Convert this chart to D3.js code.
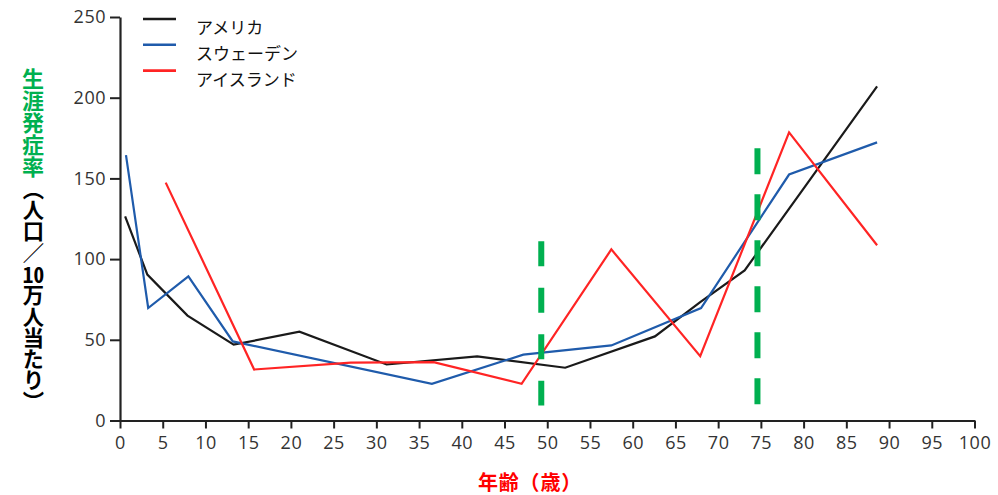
<!DOCTYPE html>
<html>
<head>
<meta charset="utf-8">
<script src="https://cdn.jsdelivr.net/npm/d3@7"></script>
<style>
  html, body { margin: 0; padding: 0; background: #fff; }
  #wrap { position: relative; width: 998px; height: 495px; overflow: hidden; }
  svg { position: absolute; left: 0; top: 0; }
  .ylab { position: absolute; writing-mode: vertical-rl; font-family: "Noto Sans CJK JP", sans-serif; font-weight: bold; line-height: 22px; white-space: nowrap; }
  .tcy { text-combine-upright: all; }
</style>
</head>
<body>
<div id="wrap"></div>
<script>
// ---- data ----
const seriesNames = ["アメリカ", "スウェーデン", "アイスランド"];
const usaAges = [0.6, 3.2, 7.9, 13.3, 21, 31.2, 41.8, 52.1, 62.6, 67.9, 73.1, 88.6];
const usaValues = [126.5, 90.4, 65, 47, 55, 34.7, 39.7, 32.7, 52.1, 73.4, 93, 207];
const swedenAges = [0.7, 3.3, 8.0, 13.2, 36.5, 47.2, 57.5, 68.0, 78.3, 88.6];
const swedenValues = [164.4, 69.7, 89.3, 49, 22.7, 40.8, 46.5, 69.7, 152.4, 172.3];
const icelandAges = [5.35, 15.7, 27, 36.7, 47, 57.5, 67.9, 78.3, 88.6];
const icelandValues = [147.4, 31.6, 35.8, 36.2, 22.7, 106, 39.9, 178.5, 108.6];
const markerAges = [49.3, 74.6];
const markerTops = [111, 168.7];
const markerBottom = 9.3;
const xTicks = d3.range(0, 101, 5);
const yTicks = [0, 50, 100, 150, 200, 250];
const xTitle = "年齢（歳）";

const colors = ["#1a1a1a", "#1f5bab", "#ff2424"];

const W = 998, H = 495;
const wrap = d3.select("#wrap");
const svg = wrap.append("svg").attr("width", W).attr("height", H);

const x = d3.scaleLinear().domain([0, 100]).range([120, 974.5]);
const y = d3.scaleLinear().domain([0, 250]).range([420.5, 17]);

// axes
const yAxis = svg.append("g").attr("transform", `translate(${x(0)},0)`)
  .call(d3.axisLeft(y).tickValues(yTicks).tickSize(10).tickPadding(4).tickSizeOuter(0));
const xAxis = svg.append("g").attr("transform", `translate(0,${y(0)})`)
  .call(d3.axisBottom(x).tickValues(xTicks).tickSize(8).tickPadding(8).tickSizeOuter(0));
[xAxis, yAxis].forEach(g => {
  g.selectAll("path.domain").attr("stroke", "#222").attr("stroke-width", 2.2);
  g.selectAll(".tick line").attr("stroke", "#222").attr("stroke-width", 2);
  g.selectAll(".tick text").attr("fill", "#333")
    .style("font-family", "'Open Sans', sans-serif").style("font-size", "18px")
    .style("letter-spacing", "0.5px");
});

// series lines
const series = [
  { ages: usaAges, values: usaValues },
  { ages: swedenAges, values: swedenValues },
  { ages: icelandAges, values: icelandValues }
];
const line = d3.line().x(d => x(d[0])).y(d => y(d[1]));
series.forEach((s, i) => {
  svg.append("path")
    .datum(s.ages.map((a, j) => [a, s.values[j]]))
    .attr("d", line)
    .attr("fill", "none")
    .attr("stroke", colors[i])
    .attr("stroke-width", 2.2)
    .attr("stroke-linejoin", "miter");
});

// green dashed markers
markerAges.forEach((a, i) => {
  svg.append("line")
    .attr("x1", x(a)).attr("x2", x(a))
    .attr("y1", y(markerTops[i])).attr("y2", y(markerBottom))
    .attr("stroke", "#00b050").attr("stroke-width", 6)
    .attr("stroke-dasharray", i === 0 ? "25,21.5" : "26,20");
});

// legend
const leg = svg.append("g");
seriesNames.forEach((n, i) => {
  const ly = 19 + i * 25.8;
  leg.append("line").attr("x1", 143).attr("x2", 176).attr("y1", ly).attr("y2", ly)
    .attr("stroke", colors[i]).attr("stroke-width", 2.6);
  leg.append("text").attr("x", 196).attr("y", ly + 7.5)
    .attr("dominant-baseline", "central")
    .style("font-family", "'Noto Sans CJK JP', sans-serif").style("font-size", "17px")
    .attr("fill", "#111").text(n);
});

// x title
svg.append("text").attr("x", 478).attr("y", 481)
  .attr("dominant-baseline", "central")
  .style("font-family", "'Noto Sans CJK JP', sans-serif").style("font-weight", "bold")
  .style("font-size", "20px").style("letter-spacing", "0.8px")
  .attr("fill", "#ff0000").text(xTitle);

// y title (vertical)
const yl = wrap.append("div").attr("class", "ylab")
  .style("left", "22px").style("top", "68px");
yl.append("span").style("color", "#00b050").style("font-size", "22px").text("生涯発症率");
const blk = yl.append("span").style("color", "#000").style("font-size", "21.3px");
blk.append("span").text("（人口／");
blk.append("span").attr("class", "tcy").text("10");
blk.append("span").text("万人当たり）");
</script>
</body>
</html>
